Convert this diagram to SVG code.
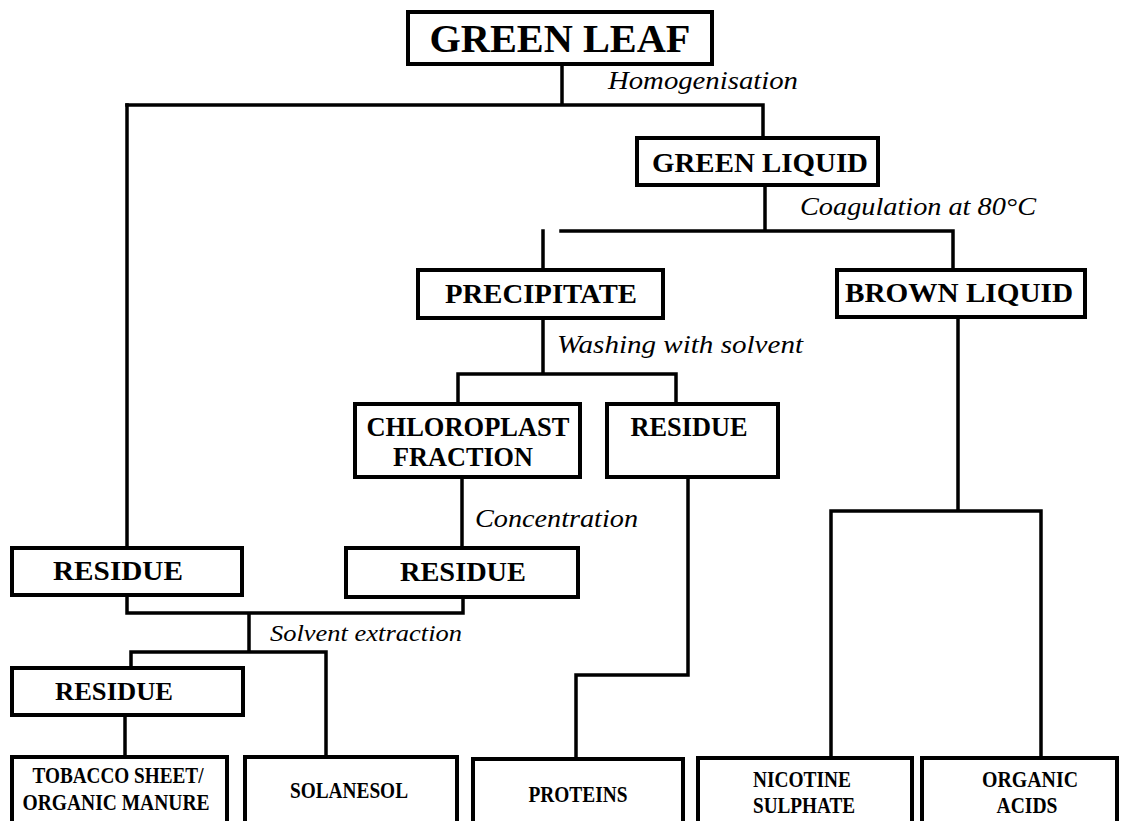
<svg xmlns="http://www.w3.org/2000/svg" width="1126" height="821" viewBox="0 0 1126 821">
<style>
.box{fill:#fff;stroke:#000;stroke-width:4}
.ln{fill:none;stroke:#000;stroke-width:3.5;stroke-linecap:square}
.t{font-family:"Liberation Serif","Times New Roman",serif;font-weight:bold;text-anchor:middle;fill:#000}
.lbl{font-family:"Liberation Serif","Times New Roman",serif;font-style:italic;fill:#000}
</style>
<rect width="1126" height="821" fill="#fff"/>
<g id="connectors">
<path class="ln" d="M562 64V105M127 105H763V138"/>
<path class="ln" d="M127 105V548"/>
<path class="ln" d="M765 185V231M561 231H953V268M543 231V270"/>
<path class="ln" d="M543 318V374M458 374H676M458 374V404M676 374V404"/>
<path class="ln" d="M462 477V548"/>
<path class="ln" d="M688 477V675H576V759"/>
<path class="ln" d="M958 317V511M831 511H1041M831 511V758M1041 511V758"/>
<path class="ln" d="M127 595V613H463V597M249 613V652M131 652H326M131 652V668M326 652V757"/>
<path class="ln" d="M125 715V757"/>
</g>
<g id="green-leaf"><rect class="box" x="408" y="12" width="304" height="52"/><text class="t" x="560" y="52" font-size="40" textLength="261" lengthAdjust="spacingAndGlyphs">GREEN LEAF</text></g>
<g id="lbl-homogenisation"><text class="lbl" x="608" y="89" font-size="26" textLength="190" lengthAdjust="spacingAndGlyphs">Homogenisation</text></g>
<g id="green-liquid"><rect class="box" x="637" y="138" width="241" height="47"/><text class="t" x="760" y="172" font-size="28" textLength="216" lengthAdjust="spacingAndGlyphs">GREEN LIQUID</text></g>
<g id="lbl-coagulation"><text class="lbl" x="800" y="215" font-size="25" textLength="236" lengthAdjust="spacingAndGlyphs">Coagulation at 80°C</text></g>
<g id="precipitate"><rect class="box" x="418" y="270" width="245" height="48"/><text class="t" x="541" y="303" font-size="27" textLength="192" lengthAdjust="spacingAndGlyphs">PRECIPITATE</text></g>
<g id="brown-liquid"><rect class="box" x="837" y="270" width="248" height="47"/><text class="t" x="959" y="302" font-size="28" textLength="228" lengthAdjust="spacingAndGlyphs">BROWN LIQUID</text></g>
<g id="lbl-washing"><text class="lbl" x="557" y="353" font-size="25" textLength="246" lengthAdjust="spacingAndGlyphs">Washing with solvent</text></g>
<g id="chloroplast"><rect class="box" x="355" y="404" width="225" height="73"/><text class="t" x="468" y="436" font-size="27" textLength="203" lengthAdjust="spacingAndGlyphs">CHLOROPLAST</text><text class="t" x="463" y="466" font-size="27" textLength="140" lengthAdjust="spacingAndGlyphs">FRACTION</text></g>
<g id="residue-mid"><rect class="box" x="607" y="404" width="171" height="73"/><text class="t" x="689" y="436" font-size="27" textLength="117" lengthAdjust="spacingAndGlyphs">RESIDUE</text></g>
<g id="lbl-concentration"><text class="lbl" x="475" y="527" font-size="25" textLength="163" lengthAdjust="spacingAndGlyphs">Concentration</text></g>
<g id="residue-left"><rect class="box" x="12" y="548" width="230" height="47"/><text class="t" x="118" y="580" font-size="27" textLength="130" lengthAdjust="spacingAndGlyphs">RESIDUE</text></g>
<g id="residue-center"><rect class="box" x="346" y="548" width="232" height="49"/><text class="t" x="463" y="581" font-size="27" textLength="126" lengthAdjust="spacingAndGlyphs">RESIDUE</text></g>
<g id="lbl-solvent"><text class="lbl" x="270" y="641" font-size="23" textLength="192" lengthAdjust="spacingAndGlyphs">Solvent extraction</text></g>
<g id="residue-low"><rect class="box" x="12" y="668" width="231" height="47"/><text class="t" x="114" y="700" font-size="26" textLength="118" lengthAdjust="spacingAndGlyphs">RESIDUE</text></g>
<g id="tobacco"><rect class="box" x="12" y="757" width="215" height="75"/><text class="t" x="118" y="783" font-size="24" textLength="171" lengthAdjust="spacingAndGlyphs">TOBACCO SHEET/</text><text class="t" x="116" y="810" font-size="24" textLength="187" lengthAdjust="spacingAndGlyphs">ORGANIC MANURE</text></g>
<g id="solanesol"><rect class="box" x="245" y="757" width="212" height="75"/><text class="t" x="349" y="798" font-size="24" textLength="118" lengthAdjust="spacingAndGlyphs">SOLANESOL</text></g>
<g id="proteins"><rect class="box" x="473" y="759" width="210" height="75"/><text class="t" x="578" y="802" font-size="24" textLength="99" lengthAdjust="spacingAndGlyphs">PROTEINS</text></g>
<g id="nicotine"><rect class="box" x="698" y="758" width="214" height="75"/><text class="t" x="802" y="787" font-size="24" textLength="98" lengthAdjust="spacingAndGlyphs">NICOTINE</text><text class="t" x="804" y="813" font-size="24" textLength="102" lengthAdjust="spacingAndGlyphs">SULPHATE</text></g>
<g id="organic-acids"><rect class="box" x="922" y="758" width="195" height="75"/><text class="t" x="1030" y="787" font-size="24" textLength="96" lengthAdjust="spacingAndGlyphs">ORGANIC</text><text class="t" x="1027" y="813" font-size="24" textLength="61" lengthAdjust="spacingAndGlyphs">ACIDS</text></g>
</svg>
